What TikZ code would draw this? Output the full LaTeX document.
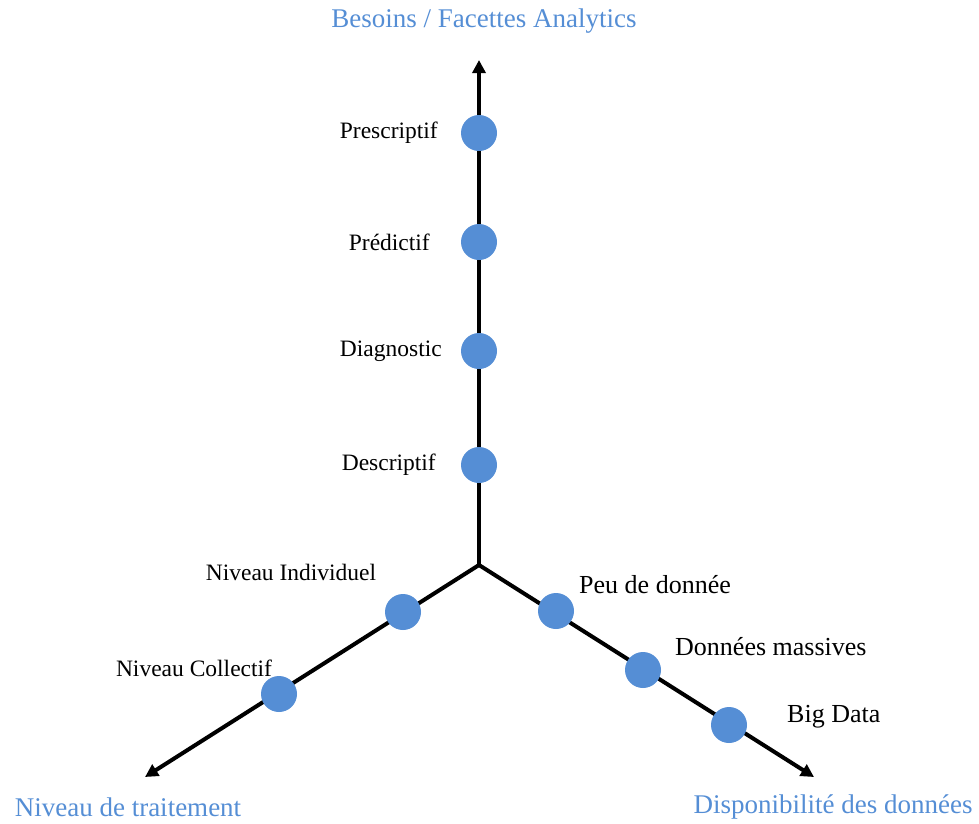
\documentclass[tikz,border=0pt]{standalone}
\usepackage{fontspec}
\setmainfont{Liberation Serif}
\usetikzlibrary{arrows.meta}
\definecolor{dotblue}{RGB}{85,142,213}
\begin{document}
\begin{tikzpicture}[x=1pt,y=-1pt,
  axis/.style={line width=4pt,-{Triangle[length=13pt,width=13pt]}},
  dot/.style={circle,fill=dotblue,minimum size=36pt,inner sep=0pt},
  lbl/.style={font=\fontsize{23.5}{26}\selectfont,inner sep=0pt},
  lblr/.style={font=\fontsize{26}{29}\selectfont,inner sep=0pt,anchor=west},
  ttl/.style={font=\fontsize{27}{30}\selectfont,text=dotblue,inner sep=0pt}]
\useasboundingbox (0,0) rectangle (979,823);
\coordinate (o) at (479,565);
\coordinate (top) at (479,60);
\coordinate (left) at (145,777);
\coordinate (right) at (814,777);
\draw[axis] (o) -- (top);
\draw[axis] (o) -- (left);
\draw[axis] (o) -- (right);
\node[dot] (p1) at (479,133) {};
\node[dot] (p2) at (479,242) {};
\node[dot] (p3) at (479,351) {};
\node[dot] (p4) at (479,465) {};
\node[dot] (l1) at (403,612) {};
\node[dot] (l2) at (279,694) {};
\node[dot] (r1) at (556,611) {};
\node[dot] (r2) at (643,670) {};
\node[dot] (r3) at (729,725) {};
\node[lbl,anchor=east] (t1) at (438,133) {Prescriptif};
\node[lbl,anchor=east] (t2) at (430,242) {Prédictif};
\node[lbl,anchor=east] (t3) at (442,351) {Diagnostic};
\node[lbl,anchor=east] (t4) at (436,465) {Descriptif};
\node[lbl] (tl1) at (291,572) {Niveau Individuel};
\node[lbl] (tl2) at (194,668) {Niveau Collectif};
\node[lblr] (tr1) at (579,585) {Peu de donnée};
\node[lblr] (tr2) at (675,647) {Données massives};
\node[lblr] (tr3) at (787,717) {Big Data};
\node[ttl] (h1) at (484,21) {Besoins / Facettes Analytics};
\node[ttl] (h2) at (128,807) {Niveau de traitement};
\node[ttl] (h3) at (833,807) {Disponibilité des données};
\end{tikzpicture}
\end{document}
